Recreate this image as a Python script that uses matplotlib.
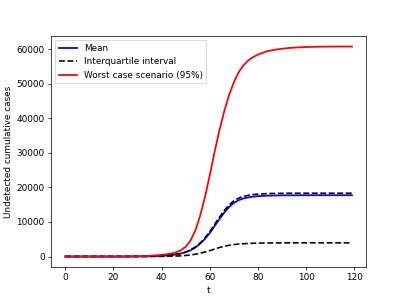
import numpy as np
import matplotlib
matplotlib.use('Agg')
import matplotlib.pyplot as plt

# time points (days) at which the curves were read
t = [0, 10, 20, 25, 30, 35, 40, 44, 46, 48, 50, 52, 54, 56, 58, 60, 62, 64, 66, 68,
     70, 72, 74, 76, 78, 80, 84, 88, 92, 96, 100, 105, 110, 115, 119]

# mean undetected cumulative cases
mean_cases = [0, 0, 0, 5, 20, 60, 180, 400, 600, 850, 1250, 1800, 2600, 3700, 5100,
              6800, 8800, 10800, 12700, 14300, 15500, 16300, 16800, 17100, 17300,
              17450, 17600, 17650, 17700, 17700, 17720, 17720, 17720, 17720, 17720]

# interquartile interval (lower / upper)
q25_cases = [0, 0, 0, 0, 2, 8, 30, 80, 130, 200, 300, 450, 650, 950, 1300, 1700,
             2150, 2600, 2950, 3250, 3450, 3600, 3700, 3780, 3830, 3870, 3910,
             3930, 3940, 3950, 3950, 3950, 3950, 3950, 3950]
q75_cases = [0, 0, 0, 5, 20, 65, 190, 420, 640, 900, 1300, 1900, 2750, 3900, 5400,
             7200, 9300, 11400, 13300, 14900, 16100, 16900, 17400, 17700, 17900,
             18050, 18200, 18250, 18300, 18300, 18300, 18300, 18300, 18300, 18300]

# worst case scenario (95th percentile)
worst_cases = [0, 0, 5, 20, 60, 180, 480, 850, 1200, 1800, 2800, 4600, 7500, 11800,
               17200, 23500, 30300, 36500, 42000, 46700, 50400, 53300, 55300, 56700,
               57700, 58400, 59400, 59900, 60250, 60450, 60580, 60660, 60700, 60720,
               60730]

fig = plt.figure(figsize=(407 / 64, 300 / 64), dpi=64)
plt.plot(t, mean_cases, color='b', linewidth=2, label='Mean')
plt.plot(t, q25_cases, 'k--', linewidth=1.8, label='Interquartile interval')
plt.plot(t, q75_cases, 'k--', linewidth=1.8)
plt.plot(t, worst_cases, color='r', linewidth=2, label='Worst case scenario (95%)')
plt.xlabel("t")
plt.ylabel("Undetected cumulative cases")
plt.legend(loc='upper left')
plt.savefig("out.png", dpi=64)
